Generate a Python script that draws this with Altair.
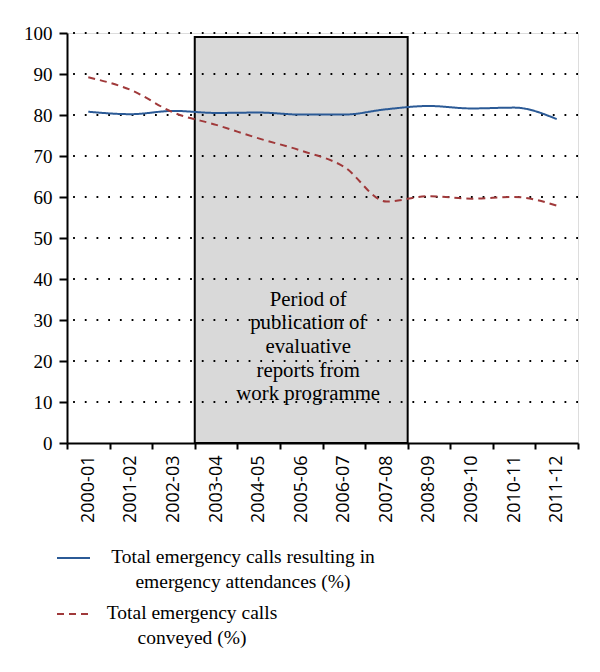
import altair as alt
import pandas as pd

years = ["2000-01", "2001-02", "2002-03", "2003-04", "2004-05", "2005-06",
         "2006-07", "2007-08", "2008-09", "2009-10", "2010-11", "2011-12"]
attendances = [80.8, 80.2, 81.0, 80.5, 80.6, 80.1, 80.1, 81.4, 82.2, 81.6, 81.8, 79.0]
conveyed = [89.2, 86.1, 80.6, 77.6, 74.3, 71.3, 67.4, 58.9, 60.2, 59.6, 60.0, 57.9]
series_names = ["Total emergency calls resulting in emergency attendances (%)",
                "Total emergency calls conveyed (%)"]
legend_texts = ["Total emergency calls resulting in\nemergency attendances (%)",
                "Total emergency calls\nconveyed (%)"]
y_ticks = [0, 10, 20, 30, 40, 50, 60, 70, 80, 90, 100]
grid_values = [10, 20, 30, 40, 50, 60, 70, 80, 90, 100]
period_start, period_end, period_top = "2003-04", "2007-08", 99
period_label = "Period of\npublication of\nevaluative\nreports from\nwork programme"
period_label_at = ("2005-06", 35)

colors = ["#2b5a96", "#a0393a"]
dashes = [[1, 0], [7, 5]]

lines_df = pd.DataFrame({
    "year": years * 2,
    "value": attendances + conveyed,
    "series": [series_names[0]] * len(years) + [series_names[1]] * len(years),
})
box_df = pd.DataFrame({"start": [period_start], "end": [period_end], "top": [period_top]})
grid_df = pd.DataFrame({"v": grid_values})
label_df = pd.DataFrame({"year": [period_label_at[0]], "y": [period_label_at[1]], "text": [period_label]})

W, H = 511, 410
xscale = alt.Scale(domain=years, paddingInner=0, paddingOuter=0)
yscale = alt.Scale(domain=[0, 100], nice=False)
cscale = alt.Scale(domain=series_names, range=colors)
dscale = alt.Scale(domain=series_names, range=dashes)

serif = "Liberation Serif"

box = alt.Chart(box_df).mark_rect(fill="#d9d9d9", stroke="black", strokeWidth=2).encode(
    x=alt.X("start:N", scale=xscale, bandPosition=0, title=None,
            axis=alt.Axis(labelAngle=270, tickBand="extent")),
    x2=alt.X2("end:N", bandPosition=1),
    y=alt.Y("top:Q", scale=yscale, title=None, axis=alt.Axis(values=y_ticks)),
    y2=alt.datum(0),
)

grid = alt.Chart(grid_df).mark_rule(color="black", strokeWidth=1.8, strokeDash=[1.8, 9.9]).encode(
    y=alt.Y("v:Q", scale=yscale)
)

label = alt.Chart(label_df).mark_text(font=serif, fontSize=20.8, lineHeight=23.7, align="center",
                                      baseline="middle", lineBreak="\n", dx=7, color="black").encode(
    x=alt.X("year:N", scale=xscale),
    y=alt.Y("y:Q", scale=yscale),
    text="text:N",
)

lines = alt.Chart(lines_df).mark_line(strokeWidth=2, interpolate="monotone").encode(
    x=alt.X("year:N", scale=xscale),
    y=alt.Y("value:Q", scale=yscale),
    color=alt.Color("series:N", scale=cscale, legend=None),
    strokeDash=alt.StrokeDash("series:N", scale=dscale, legend=None),
)

# custom legend (decoration placed below the plot area)
legend_layers = []
legend_pos = [(525, 176), (581, 125)]  # (symbol/first-line y, text centre x) in plot pixels
for i, name in enumerate(series_names):
    ldf = pd.DataFrame({"series": [name], "text": [legend_texts[i]]})
    sym_y, txt_x = legend_pos[i]
    sym = alt.Chart(ldf).mark_rule(strokeWidth=2).encode(
        x=alt.value(-10), x2=alt.value(23), y=alt.value(sym_y),
        color=alt.Color("series:N", scale=cscale, legend=None),
        strokeDash=alt.StrokeDash("series:N", scale=dscale, legend=None),
    )
    txt = alt.Chart(ldf).mark_text(font=serif, fontSize=19.5, lineHeight=25, align="center",
                                   baseline="middle", lineBreak="\n", color="black").encode(
        x=alt.value(txt_x), y=alt.value(sym_y - 1), text="text:N",
    )
    legend_layers += [sym, txt]

chart = alt.layer(box, grid, label, lines, *legend_layers).properties(
    width=W, height=H,
    autosize=alt.AutoSizeParams(type="none"),
    padding={"left": 59, "top": 25, "right": 14, "bottom": 215},
).configure_view(stroke=None).configure(background="white").configure_axisX(
    labelAngle=270, tickBand="extent", tickSize=6, tickWidth=2, tickColor="black",
    domainColor="black", domainWidth=2, labelFont="Open Sans", labelFontSize=18,
    labelColor="black", labelPadding=6, grid=False, title=None,
).configure_axisY(
    tickSize=8, tickWidth=2, tickColor="black", domainColor="black", domainWidth=2,
    labelFont=serif, labelFontSize=19, labelColor="black", labelPadding=7, grid=False, title=None,
)

chart.save("out.html", embed_options={"renderer": "svg", "actions": False})
